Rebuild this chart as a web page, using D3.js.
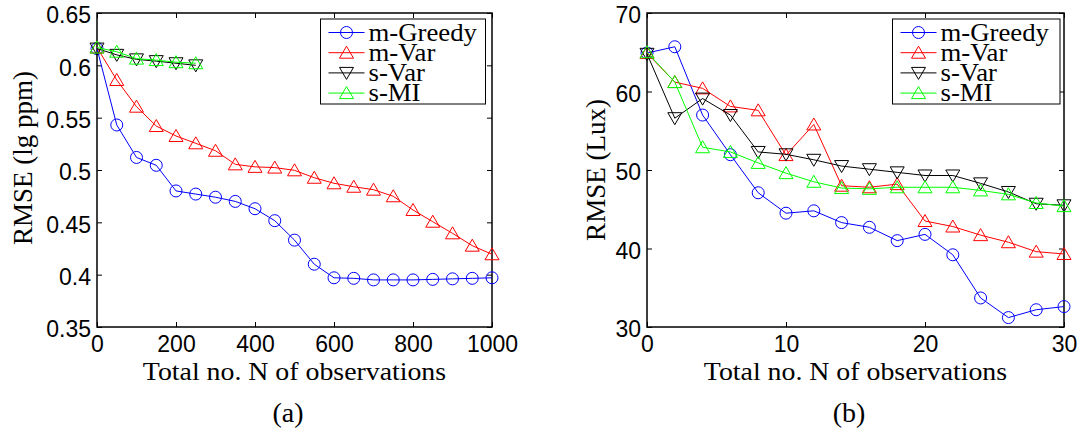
<!DOCTYPE html>
<html lang="en">
<meta charset="utf-8">
<head>
    <script src='https://d3js.org/d3.v7.min.js'></script>
    <style>
        body { margin: 0; background: #fff; }
    </style>
</head>
<body>
<script>

// ---- data (a): CO2 sensing, 0..1000 observations
var xA = [0, 50, 100, 150, 200, 250, 300, 350, 400, 450, 500, 550, 600, 650, 700, 750, 800, 850, 900, 950, 1000]
var greedyA = [0.616, 0.543, 0.512, 0.5045, 0.480, 0.477, 0.474, 0.470, 0.463, 0.4516, 0.433, 0.410, 0.397, 0.3965, 0.395, 0.395, 0.395, 0.3955, 0.396, 0.3965, 0.397]
var mVarA = [0.617, 0.586, 0.5605, 0.542, 0.5325, 0.5255, 0.5184, 0.5054, 0.503, 0.5023, 0.4997, 0.4926, 0.4873, 0.484, 0.4812, 0.4749, 0.4618, 0.4506, 0.4395, 0.4277, 0.4195]
var xShortA = [0, 50, 100, 150, 200, 250]
var sVarA = [0.616, 0.610, 0.6057, 0.604, 0.602, 0.600]
var sMIA = [0.617, 0.613, 0.6064, 0.605, 0.603, 0.602]
var xTicksA = [0, 200, 400, 600, 800, 1000]
var yTicksA = [0.35, 0.4, 0.45, 0.5, 0.55, 0.6, 0.65]

// ---- data (b): light sensing, 0..30 observations
var xB = [0, 2, 4, 6, 8, 10, 12, 14, 16, 18, 20, 22, 24, 26, 28, 30]
var greedyB = [64.9, 65.7, 57.0, 51.95, 47.1, 44.5, 44.8, 43.3, 42.7, 41.0, 41.8, 39.2, 33.7, 31.2, 32.2, 32.6]
var mVarB = [64.9, 61.2, 60.4, 58.1, 57.6, 51.9, 55.8, 48.0, 47.8, 48.2, 43.5, 42.8, 41.7, 40.8, 39.6, 39.3]
var sVarB = [64.8, 56.6, 59.1, 57.0, 52.3, 52.0, 51.3, 50.5, 50.1, 49.7, 49.3, 49.3, 48.3, 47.2, 45.7, 45.5]
var sMIB = [65.0, 61.2, 52.9, 52.3, 50.9, 49.6, 48.5, 47.7, 47.6, 47.8, 47.8, 47.8, 47.4, 46.9, 45.8, 45.4]
var xTicksB = [0, 10, 20, 30]
var yTicksB = [30, 40, 50, 60, 70]

var names = ['m-Greedy', 'm-Var', 's-Var', 's-MI']
var colors = ['#0000ff', '#ff0000', '#000000', '#00ff00']
var markers = ['circle', 'up', 'down', 'up']

var svg = d3.select('body')
    .append('svg')
    .attr('width', 1085)
    .attr('height', 434)
    .style('font-family', 'Liberation Sans, Arial, sans-serif')

var serif = 'Liberation Serif, Times New Roman, serif'

function markerPath(kind) {
    if (kind == 'circle') return 'M6,0A6,6 0 1,1 -6,0A6,6 0 1,1 6,0Z'
    if (kind == 'up') return 'M0,-6.5L7,5.5L-7,5.5Z'
    return 'M0,6.5L7,-5.5L-7,-5.5Z'
}

// stretch serif text a bit so it looks like the LaTeX font
function stretch(sel, k) {
    sel.each(function() {
        var w = this.getComputedTextLength()
        d3.select(this).attr('textLength', w * k).attr('lengthAdjust', 'spacingAndGlyphs')
    })
}

function plain(d) { return String(+d.toFixed(2)) }

function drawPanel(p) {
    var g = svg.append('g')

    var x = d3.scaleLinear().domain(p.xDomain).range([p.left, p.right])
    var y = d3.scaleLinear().domain(p.yDomain).range([p.bottom, p.top])

    // ticks on all four sides, pointing inward
    var bottomAxis = g.append('g')
        .attr('transform', 'translate(0,' + p.bottom + ')')
        .call(d3.axisBottom(x).tickValues(p.xTicks).tickSizeInner(-5).tickSizeOuter(0).tickPadding(9)
            .tickFormat(plain))
    var leftAxis = g.append('g')
        .attr('transform', 'translate(' + p.left + ',0)')
        .call(d3.axisLeft(y).tickValues(p.yTicks).tickSizeInner(-5).tickSizeOuter(0).tickPadding(6)
            .tickFormat(plain))
    g.append('g')
        .attr('transform', 'translate(0,' + p.top + ')')
        .call(d3.axisTop(x).tickValues(p.xTicks).tickSizeInner(-5).tickSizeOuter(0).tickFormat(''))
    g.append('g')
        .attr('transform', 'translate(' + p.right + ',0)')
        .call(d3.axisRight(y).tickValues(p.yTicks).tickSizeInner(-5).tickSizeOuter(0).tickFormat(''))

    g.selectAll('.domain').remove()
    g.selectAll('.tick line').attr('stroke', '#000').attr('stroke-width', 1)
    g.selectAll('.tick text')
        .attr('fill', '#000')
        .style('font-family', 'Liberation Sans, Arial, sans-serif')
        .style('font-size', '23px')
    bottomAxis.selectAll('.tick text').attr('dy', '0.71em')
    leftAxis.selectAll('.tick text').attr('dy', '0.42em')

    // axes box
    g.append('rect')
        .attr('x', p.left)
        .attr('y', p.top)
        .attr('width', p.right - p.left)
        .attr('height', p.bottom - p.top)
        .attr('fill', 'none')
        .attr('stroke', '#000')
        .attr('stroke-width', 1.5)

    // series
    var line = d3.line()
        .x(function(d) { return x(d[0]) })
        .y(function(d) { return y(d[1]) })

    p.series.forEach(function(s, i) {
        var pts = s.x.map(function(v, j) { return [v, s.y[j]] })
        g.append('path')
            .datum(pts)
            .attr('fill', 'none')
            .attr('stroke', colors[i])
            .attr('stroke-width', 1)
            .attr('d', line)
        g.selectAll('.m' + i)
            .data(pts)
            .enter()
            .append('path')
            .attr('class', 'm' + i)
            .attr('transform', function(d) { return 'translate(' + x(d[0]) + ',' + y(d[1]) + ')' })
            .attr('d', markerPath(markers[i]))
            .attr('fill', 'none')
            .attr('stroke', colors[i])
            .attr('stroke-width', 1)
    })

    // legend
    var lg = g.append('g').attr('transform', 'translate(' + p.legendX + ',19)')
    lg.append('rect')
        .attr('width', p.legendW)
        .attr('height', 85)
        .attr('fill', '#fff')
        .attr('stroke', '#000')
        .attr('stroke-width', 1)
    names.forEach(function(n, i) {
        var ry = 13.5 + i * 20.2
        lg.append('line')
            .attr('x1', 8).attr('x2', 44)
            .attr('y1', ry).attr('y2', ry)
            .attr('stroke', colors[i])
        lg.append('path')
            .attr('transform', 'translate(26,' + ry + ')')
            .attr('d', markerPath(markers[i]))
            .attr('fill', 'none')
            .attr('stroke', colors[i])
        lg.append('text')
            .attr('x', 48)
            .attr('y', ry + 8)
            .style('font-family', serif)
            .style('font-size', '25px')
            .text(n)
            .call(stretch, 1.07)
    })

    // axis titles
    g.append('text')
        .attr('x', (p.left + p.right) / 2)
        .attr('y', 380)
        .attr('text-anchor', 'middle')
        .style('font-family', serif)
        .style('font-size', '26px')
        .text('Total no. N of observations')
        .call(stretch, 1.07)

    g.append('text')
        .attr('transform', 'translate(' + p.yTitleX + ',' + p.yTitleY + ') rotate(-90)')
        .attr('text-anchor', 'middle')
        .style('font-family', serif)
        .style('font-size', '27px')
        .text(p.yTitle)

    g.append('text')
        .attr('x', p.captionX)
        .attr('y', 422)
        .attr('text-anchor', 'middle')
        .style('font-family', serif)
        .style('font-size', '28px')
        .text(p.caption)
}

drawPanel({
    left: 97, right: 492, top: 13, bottom: 327,
    xDomain: [0, 1000], yDomain: [0.35, 0.65],
    xTicks: xTicksA, yTicks: yTicksA,
    yTitle: 'RMSE (lg ppm)', yTitleX: 32, yTitleY: 158,
    caption: '(a)', captionX: 288,
    legendX: 320.5, legendW: 165,
    series: [
        {x: xA, y: greedyA},
        {x: xA, y: mVarA},
        {x: xShortA, y: sVarA},
        {x: xShortA, y: sMIA}
    ]
})

drawPanel({
    left: 647, right: 1064, top: 13, bottom: 327,
    xDomain: [0, 30], yDomain: [30, 70],
    xTicks: xTicksB, yTicks: yTicksB,
    yTitle: 'RMSE (Lux)', yTitleX: 605, yTitleY: 170,
    caption: '(b)', captionX: 849,
    legendX: 892.5, legendW: 167.5,
    series: [
        {x: xB, y: greedyB},
        {x: xB, y: mVarB},
        {x: xB, y: sVarB},
        {x: xB, y: sMIB}
    ]
})

</script>
</body>
</html>
